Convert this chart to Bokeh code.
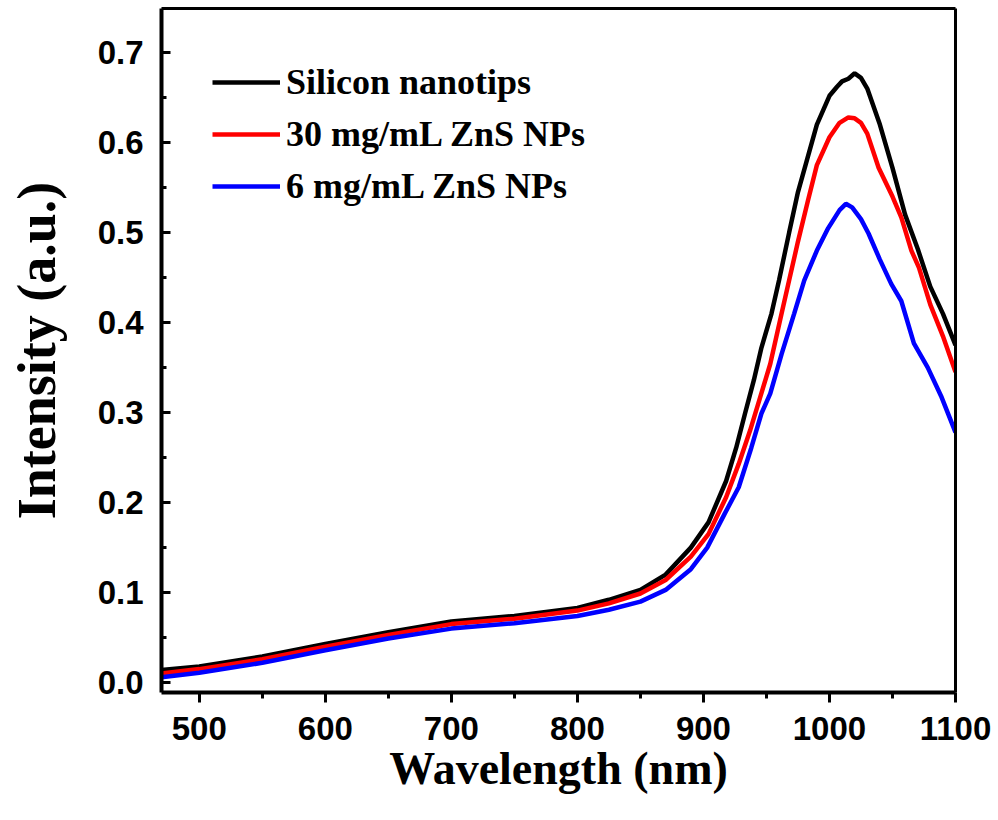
from bokeh.plotting import figure
from bokeh.models import (Range1d, FixedTicker, Legend, LegendItem, NumeralTickFormatter,
                          LinearAxis)
from bokeh.embed import file_html
from bokeh.resources import INLINE

# Wavelength (nm) and intensity (a.u.) for each sample
wl_si = [470, 500, 550, 600, 650, 700, 750, 800, 825, 850, 870, 890, 904, 918,
         926, 933, 940, 946, 954, 960, 968, 975, 982, 990, 1000, 1006, 1010,
         1015, 1020, 1025, 1030, 1040, 1050, 1060, 1070, 1080, 1090, 1100]
int_si = [0.014, 0.018, 0.029, 0.043, 0.056, 0.068, 0.074, 0.083, 0.092, 0.103,
          0.120, 0.150, 0.178, 0.224, 0.261, 0.299, 0.336, 0.372, 0.410, 0.447,
          0.500, 0.545, 0.580, 0.620, 0.652, 0.662, 0.668, 0.671, 0.677, 0.672,
          0.660, 0.620, 0.572, 0.520, 0.482, 0.440, 0.410, 0.375]

wl_30 = [470, 500, 550, 600, 650, 700, 750, 800, 825, 850, 870, 890, 904, 918,
         928, 937, 945, 953, 962, 968, 975, 983, 990, 1000, 1008, 1015, 1020,
         1025, 1030, 1039, 1050, 1057, 1065, 1071, 1080, 1090, 1100]
int_30 = [0.010, 0.015, 0.026, 0.040, 0.053, 0.065, 0.071, 0.080, 0.088, 0.099,
          0.114, 0.140, 0.165, 0.206, 0.243, 0.280, 0.317, 0.354, 0.410, 0.447,
          0.490, 0.536, 0.575, 0.606, 0.622, 0.628, 0.627, 0.622, 0.610, 0.572,
          0.540, 0.517, 0.480, 0.461, 0.420, 0.385, 0.345]

wl_6 = [470, 500, 550, 600, 650, 700, 750, 800, 825, 850, 870, 890, 903, 917,
        928, 938, 946, 953, 962, 972, 980, 990, 999, 1008, 1013, 1018, 1025,
        1031, 1040, 1049, 1057, 1067, 1078, 1089, 1100]
int_6 = [0.006, 0.011, 0.022, 0.036, 0.049, 0.060, 0.066, 0.074, 0.081, 0.090,
         0.103, 0.126, 0.150, 0.188, 0.217, 0.261, 0.299, 0.321, 0.365, 0.410,
         0.447, 0.480, 0.505, 0.525, 0.532, 0.528, 0.515, 0.499, 0.470, 0.443,
         0.424, 0.377, 0.350, 0.317, 0.278]

labels = ["Silicon nanotips", "30 mg/mL ZnS NPs", "6 mg/mL ZnS NPs"]
colors = ["#000000", "#ff0000", "#0000ff"]

x_ticks = [500, 600, 700, 800, 900, 1000, 1100]
x_minor = [550, 650, 750, 850, 950, 1050]
y_ticks = [0.0, 0.1, 0.2, 0.3, 0.4, 0.5, 0.6, 0.7]
y_minor = [0.05, 0.15, 0.25, 0.35, 0.45, 0.55, 0.65]

p = figure(width=998, height=820, output_backend="svg", toolbar_location=None,
           x_range=Range1d(470, 1100), y_range=Range1d(-0.011, 0.749),
           min_border_left=161, min_border_right=43, min_border_top=8,
           min_border_bottom=128)
# grid lines drawn white so they blend into the background
p.xgrid.grid_line_color = "#ffffff"
p.ygrid.grid_line_color = "#ffffff"

renderers = []
for wl, inten, c in zip([wl_si, wl_30, wl_6], [int_si, int_30, int_6], colors):
    r = p.line(wl, inten, line_color=c, line_width=4.5)
    renderers.append(r)

legend = Legend(items=[LegendItem(label=l, renderers=[r]) for l, r in zip(labels, renderers)],
                location="top_left", margin=51, padding=0, spacing=6,
                label_height=46, glyph_height=46, glyph_width=68, label_standoff=6,
                border_line_color=None, background_fill_alpha=0,
                label_text_font="Liberation Serif", label_text_font_style="bold",
                label_text_font_size="36px", label_text_color="black")
p.add_layout(legend)

xa = p.below[0]
ya = p.left[0]
xa.ticker = FixedTicker(ticks=x_ticks, minor_ticks=x_minor)
ya.ticker = FixedTicker(ticks=y_ticks, minor_ticks=y_minor)
ya.formatter = NumeralTickFormatter(format="0.0")

for ax in (xa, ya):
    ax.axis_line_color = "black"
    ax.axis_line_width = 4
    ax.major_tick_line_color = "black"
    ax.minor_tick_line_color = "black"
    ax.major_tick_line_width = 3
    ax.minor_tick_line_width = 3
    ax.major_label_text_color = "black"
    ax.major_label_text_font = "Liberation Sans"
    ax.major_label_text_font_style = "bold"
    ax.major_label_text_font_size = "33px"
    ax.axis_label_text_color = "black"
    ax.axis_label_text_font = "Liberation Serif"
    ax.axis_label_text_font_style = "bold"

xa.major_tick_in = 0
xa.major_tick_out = 10
xa.minor_tick_in = 0
xa.minor_tick_out = 6
xa.major_label_standoff = 14
xa.axis_label = "Wavelength (nm)"
xa.axis_label_text_font_size = "46px"
xa.axis_label_standoff = 0

ya.major_tick_in = 9
ya.major_tick_out = 0
ya.minor_tick_in = 5
ya.minor_tick_out = 0
ya.major_label_standoff = 18
ya.axis_label = "Intensity (a.u.)"
ya.axis_label_text_font_size = "54px"
ya.axis_label_standoff = 28

# plain frame lines on the top and right sides
for side in ("above", "right"):
    frame_axis = LinearAxis(ticker=FixedTicker(ticks=[]), axis_line_color="black",
                            axis_line_width=3, major_tick_line_color=None,
                            minor_tick_line_color=None, major_label_text_color=None)
    p.add_layout(frame_axis, side)

open("out.html", "w").write(file_html(p, INLINE))
